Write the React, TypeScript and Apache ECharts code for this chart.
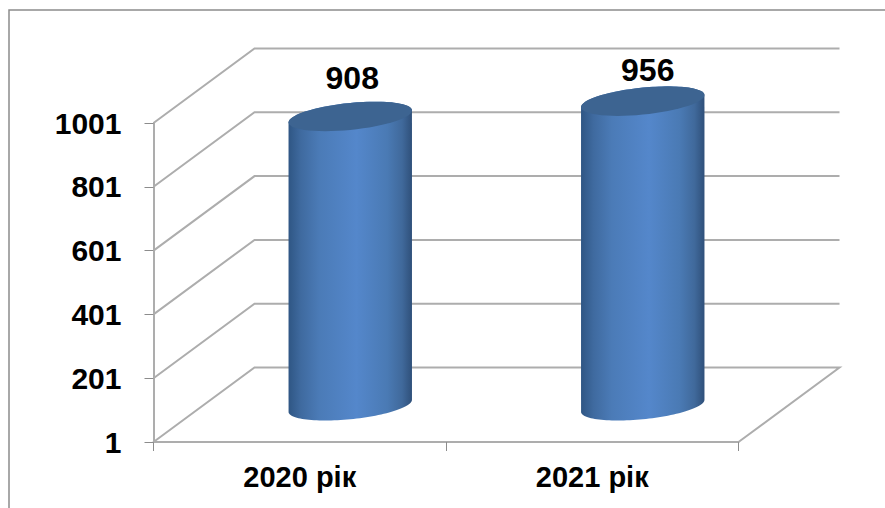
import React, { useEffect, useRef } from "react";
import * as echarts from "echarts";

const categories = ["2020 рік", "2021 рік"];
const seriesValues = [908, 956];
const tickLabels = [1, 201, 401, 601, 801, 1001];
const labelNudges = [[2, -38], [5, -31.5]];

const FONT = "Arial, 'Liberation Sans', sans-serif";
const DEPTH_X = 101;
const DEPTH_Y = -74.5;
const WALL = "#adadad";

function ellipsePoints(cx: number, cy: number, w: number, sk: number, h: number, from: number, to: number) {
  const pts: number[][] = [];
  const n = 60;
  for (let i = 0; i <= n; i++) {
    const t = from + ((to - from) * i) / n;
    pts.push([cx + w * Math.cos(t), cy - sk * Math.cos(t) - h * Math.sin(t)]);
  }
  return pts;
}

const renderWall = (params: any, api: any) => {
  const cs = params.coordSys;
  const y = api.coord([0, api.value(1)])[1];
  const x0 = cs.x;
  const x1 = cs.x + cs.width;
  const style = { stroke: WALL, lineWidth: 2, fill: "none" };
  const points = [[x0, y], [x0 + DEPTH_X, y + DEPTH_Y], [x1 + DEPTH_X, y + DEPTH_Y]];
  if (params.dataIndex === 0) points.push([x1, y]);
  return { type: "polyline", shape: { points }, style };
};

const renderBar = (params: any, api: any) => {
  const cs = params.coordSys;
  const i = api.value(0);
  const val = api.value(1);
  const base = api.coord([i, tickLabels[0]]);
  const top = api.coord([i, val]);
  const cx = top[0] + DEPTH_X / 2;
  const topY = top[1] + DEPTH_Y / 2 + 1;
  const botY = base[1] + DEPTH_Y / 2 + 1;
  const band = cs.width / categories.length;
  const w = band * 0.211;
  const sk = 6;
  const h = 13.5;
  const body = [
    ...ellipsePoints(cx, botY, w, sk, h, Math.PI, 2 * Math.PI),
    ...ellipsePoints(cx, topY, w, sk, h, 0, Math.PI),
  ];
  const fill = new echarts.graphic.LinearGradient(0, 0, 1, 0, [
    { offset: 0, color: "#2f5684" },
    { offset: 0.1, color: "#3f6a9f" },
    { offset: 0.25, color: "#4b7bb7" },
    { offset: 0.55, color: "#5487cb" },
    { offset: 0.8, color: "#4a7ab4" },
    { offset: 0.92, color: "#40699b" },
    { offset: 1, color: "#2f507a" },
  ]);
  const nudge = labelNudges[params.dataIndex];
  return {
    type: "group",
    children: [
      { type: "polygon", shape: { points: body }, style: { fill } },
      {
        type: "polygon",
        shape: { points: ellipsePoints(cx, topY, w, sk, h, 0, 2 * Math.PI) },
        style: { fill: "#3d6491" },
      },
      {
        type: "text",
        style: {
          text: String(val),
          x: cx + nudge[0],
          y: topY + nudge[1],
          align: "center",
          verticalAlign: "middle",
          fill: "#000",
          font: `bold 32px ${FONT}`,
        },
      },
    ],
  };
};

export default function App() {
  const ref = useRef<HTMLDivElement>(null);
  useEffect(() => {
    document.body.style.margin = "0";
    const chart = echarts.init(ref.current!, null, { renderer: "svg" });
    chart.setOption({
      animation: false,
      backgroundColor: "#fff",
      grid: { left: 153.5, right: 146.5, top: 123, bottom: 66 },
      xAxis: {
        type: "category",
        data: categories,
        axisLine: { lineStyle: { color: WALL, width: 2 } },
        axisTick: { show: true, length: 9, lineStyle: { color: "#8c8c8c", width: 1 }, alignWithLabel: false },
        axisLabel: { color: "#000", fontFamily: FONT, fontWeight: "bold", fontSize: 29, margin: 20 },
        splitLine: { show: false },
      },
      yAxis: {
        type: "value",
        min: tickLabels[0],
        max: tickLabels[tickLabels.length - 1],
        axisLine: { show: true, lineStyle: { color: WALL, width: 2 } },
        axisTick: { show: true, length: 9, customValues: tickLabels, lineStyle: { color: "#8c8c8c", width: 1 } },
        axisLabel: {
          color: "#000",
          fontFamily: FONT,
          fontWeight: "bold",
          fontSize: 30,
          margin: 32,
          customValues: tickLabels,
          formatter: (v: number) => String(v),
        },
        splitLine: { show: false },
      },
      graphic: [
        {
          type: "polyline",
          shape: { points: [[9, 508], [9, 10], [885, 10]] },
          style: { stroke: "#8c8c8c", lineWidth: 1.5, fill: "none" },
          silent: true,
        },
      ],
      series: [
        {
          type: "custom",
          z: 1,
          clip: false,
          renderItem: renderWall,
          encode: { x: 0, y: 1 },
          data: tickLabels.map((t) => [0, t]),
        },
        {
          type: "custom",
          z: 3,
          clip: false,
          renderItem: renderBar,
          encode: { x: 0, y: 1 },
          data: seriesValues.map((v, i) => [i, v]),
        },
      ],
    });
    return () => chart.dispose();
  }, []);
  return <div ref={ref} style={{ position: "absolute", left: 0, top: 0, width: 885, height: 508 }} />;
}
